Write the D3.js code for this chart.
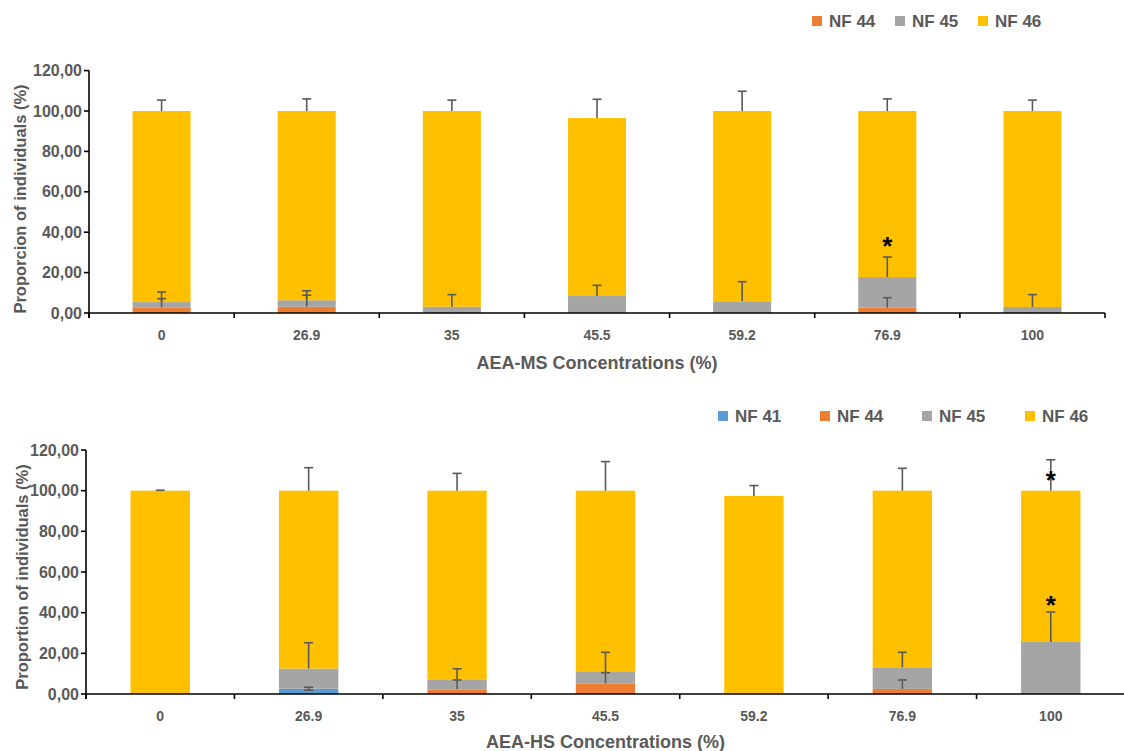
<!DOCTYPE html>
<html>
<head>
<meta charset="utf-8">
<script src="https://cdn.jsdelivr.net/npm/d3@7"></script>
<style>
  html, body { margin: 0; padding: 0; background: #fff; }
  svg { display: block; font-family: "Liberation Sans", Arial, sans-serif; }
</style>
</head>
<body>
<svg id="chart" width="1124" height="751"></svg>
<script>
// Concentrations on the x axis (shared by both panels)
const categories = ["0", "26.9", "35", "45.5", "59.2", "76.9", "100"];
const yTicks = [0, 20, 40, 60, 80, 100, 120];

// AEA-MS panel: stacked proportions (%) per number of chromosomes
const msNF44 = [2.8, 3.1, 0, 0, 0, 2.6, 0];
const msNF45 = [2.6, 3.2, 3.1, 8.4, 5.8, 15.2, 3.0];
const msNF46 = [94.6, 93.7, 96.9, 88.1, 94.2, 82.2, 97.0];
// AEA-MS standard deviations (upper whiskers)
const msErrNF44 = [4.3, 5.7, 0, 0, 0, 5.0, 0];
const msErrNF45 = [5.0, 4.7, 6.0, 5.3, 9.7, 9.9, 6.1];
const msErrNF46 = [5.4, 6.0, 5.4, 9.3, 9.8, 6.0, 5.4];
const msStars = [{ cat: "76.9", value: 34.5 }];

// AEA-HS panel
const hsNF41 = [0, 2.6, 0, 0, 0, 0, 0];
const hsNF44 = [0, 0, 2.3, 5.2, 0, 2.5, 0];
const hsNF45 = [0, 9.9, 4.9, 5.6, 0, 10.6, 25.6];
const hsNF46 = [100, 87.5, 92.8, 89.2, 97.4, 86.9, 74.4];
const hsErrNF41 = [0, 0.7, 0, 0, 0, 0, 0];
const hsErrNF44 = [0, 0, 4.6, 5.3, 0, 4.4, 0];
const hsErrNF45 = [0, 12.7, 5.2, 9.7, 0, 7.4, 14.7];
const hsErrNF46 = [0.2, 11.3, 8.5, 14.3, 5.1, 11.0, 15.2];
const hsStars = [{ cat: "100", value: 106.8 }, { cat: "100", value: 45.2 }];

const colors = {
  "NF 41": "#5B9BD5",
  "NF 44": "#ED7D31",
  "NF 45": "#A5A5A5",
  "NF 46": "#FFC000"
};
const textColor = "#595959";

const svg = d3.select("#chart");

function drawPanel(cfg) {
  const g = svg.append("g");
  const x = d3.scaleBand().domain(categories)
    .range([cfg.x0, cfg.x1]).paddingInner(0.6).paddingOuter(0.3);
  const y = d3.scaleLinear().domain([0, 120]).range([cfg.y0, cfg.yTop]);
  const step = x.step();

  // stacked series
  const rows = categories.map((c, i) => {
    const r = { cat: c };
    cfg.series.forEach(s => { r[s.name] = s.values[i]; });
    return r;
  });
  const stack = d3.stack().keys(cfg.series.map(s => s.name))(rows);

  stack.forEach(layer => {
    g.append("g").selectAll("rect").data(layer).join("rect")
      .attr("x", d => x(d.data.cat))
      .attr("width", x.bandwidth())
      .attr("y", d => y(d[1]))
      .attr("height", d => y(d[0]) - y(d[1]))
      .attr("fill", colors[layer.key]);
  });

  // error bars, drawn from each segment top
  const eg = g.append("g").attr("stroke", "#595959").attr("stroke-width", 1.6);
  stack.forEach((layer, li) => {
    const s = cfg.series[li];
    layer.forEach((d, i) => {
      const plus = s.err[i];
      const minus = s.both ? s.err[i] : 0;
      if (s.values[i] <= 0 || plus <= 0) return;
      const cx = x(d.data.cat) + x.bandwidth() / 2;
      const hi = d[1] + plus, lo = d[1] - minus;
      eg.append("line").attr("x1", cx).attr("x2", cx)
        .attr("y1", y(lo)).attr("y2", y(hi));
      eg.append("line").attr("x1", cx - 4.5).attr("x2", cx + 4.5)
        .attr("y1", y(hi)).attr("y2", y(hi));
      if (minus > 0) {
        eg.append("line").attr("x1", cx - 4.5).attr("x2", cx + 4.5)
          .attr("y1", y(lo)).attr("y2", y(lo));
      }
    });
  });

  // significance marks
  cfg.stars.forEach(st => {
    g.append("text")
      .attr("x", x(st.cat) + x.bandwidth() / 2)
      .attr("y", y(st.value) + 12)
      .attr("text-anchor", "middle")
      .attr("font-size", 26).attr("font-weight", "bold")
      .attr("fill", "#000")
      .text("*");
  });

  // axes
  const ax = g.append("g").attr("stroke", "#000").attr("stroke-width", 1.6);
  ax.append("line").attr("x1", cfg.x0).attr("x2", cfg.x0)
    .attr("y1", cfg.yTop).attr("y2", cfg.y0 + 5);
  ax.append("line").attr("x1", cfg.x0).attr("x2", cfg.x1)
    .attr("y1", cfg.y0).attr("y2", cfg.y0);
  yTicks.forEach(t => {
    ax.append("line").attr("x1", cfg.x0 - 5).attr("x2", cfg.x0)
      .attr("y1", y(t)).attr("y2", y(t));
  });
  d3.range(categories.length + 1).forEach(i => {
    const tx = cfg.x0 + i * step;
    ax.append("line").attr("x1", tx).attr("x2", tx)
      .attr("y1", cfg.y0).attr("y2", cfg.y0 + 5);
  });

  const fmt = v => d3.format(".2f")(v).replace(".", ",");
  g.append("g").selectAll("text").data(yTicks).join("text")
    .attr("x", cfg.x0 - 7).attr("y", d => y(d) + 5.5)
    .attr("text-anchor", "end")
    .attr("font-size", 16).attr("font-weight", "bold").attr("fill", textColor)
    .text(fmt);

  g.append("g").selectAll("text").data(categories).join("text")
    .attr("x", d => x(d) + x.bandwidth() / 2).attr("y", cfg.y0 + 27)
    .attr("text-anchor", "middle")
    .attr("font-size", 14).attr("font-weight", "bold").attr("fill", textColor)
    .text(d => d);

  g.append("text")
    .attr("x", (cfg.x0 + cfg.x1) / 2).attr("y", cfg.xTitleY)
    .attr("text-anchor", "middle")
    .attr("font-size", 18).attr("font-weight", "bold").attr("fill", textColor)
    .text(cfg.xTitle);

  g.append("text")
    .attr("transform", `translate(${cfg.yTitleX},${cfg.yTitleY}) rotate(-90)`)
    .attr("text-anchor", "middle").attr("dy", "0.35em")
    .attr("font-size", 16.5).attr("font-weight", "bold").attr("fill", textColor)
    .text(cfg.yTitle);

  // legend
  const lg = g.append("g");
  cfg.legend.forEach(item => {
    lg.append("rect").attr("x", item.x).attr("y", cfg.legendY - 5)
      .attr("width", 10).attr("height", 10).attr("fill", colors[item.name]);
    lg.append("text").attr("x", item.x + 17).attr("y", cfg.legendY + 6)
      .attr("font-size", 17).attr("font-weight", "bold").attr("fill", textColor)
      .text(item.name);
  });
}

drawPanel({
  x0: 89, x1: 1105, y0: 313, yTop: 70.6,
  series: [
    { name: "NF 44", values: msNF44, err: msErrNF44 },
    { name: "NF 45", values: msNF45, err: msErrNF45 },
    { name: "NF 46", values: msNF46, err: msErrNF46 }
  ],
  stars: msStars,
  xTitle: "AEA-MS Concentrations (%)", xTitleY: 369,
  yTitle: "Proporcion of individuals (%)", yTitleX: 20, yTitleY: 199,
  legendY: 21,
  legend: [{ name: "NF 44", x: 812 }, { name: "NF 45", x: 895 }, { name: "NF 46", x: 978 }]
});

drawPanel({
  x0: 86, x1: 1125, y0: 694, yTop: 450,
  series: [
    { name: "NF 41", values: hsNF41, err: hsErrNF41, both: true },
    { name: "NF 44", values: hsNF44, err: hsErrNF44 },
    { name: "NF 45", values: hsNF45, err: hsErrNF45 },
    { name: "NF 46", values: hsNF46, err: hsErrNF46 }
  ],
  stars: hsStars,
  xTitle: "AEA-HS Concentrations (%)", xTitleY: 748,
  yTitle: "Proportion of individuals (%)", yTitleX: 22, yTitleY: 577,
  legendY: 416,
  legend: [{ name: "NF 41", x: 718 }, { name: "NF 44", x: 820 }, { name: "NF 45", x: 922 }, { name: "NF 46", x: 1025 }]
});
</script>
</body>
</html>
